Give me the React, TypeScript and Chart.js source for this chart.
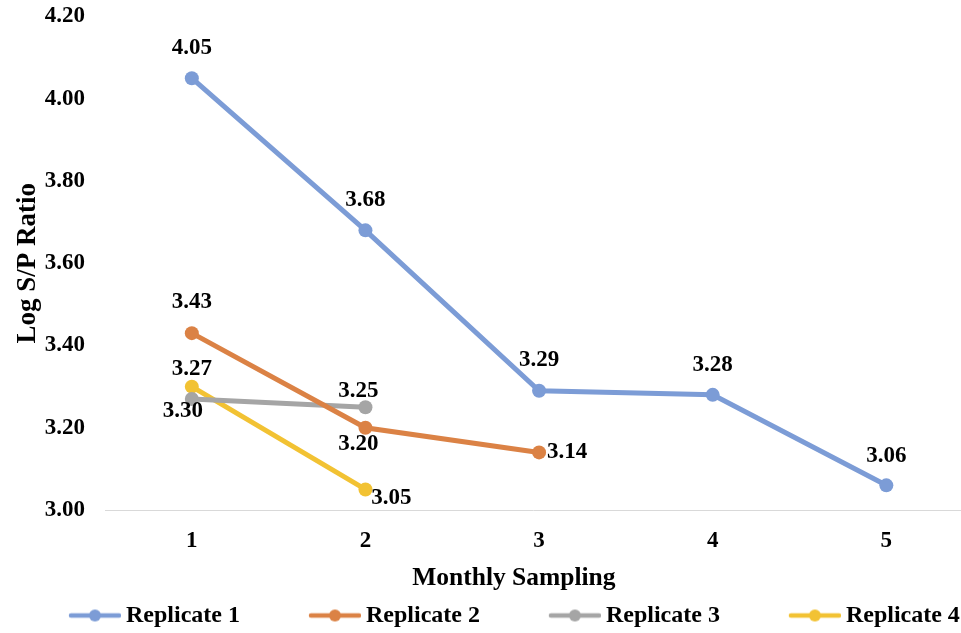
import React, { useEffect, useRef } from "react";
import { Chart, registerables } from "chart.js";

Chart.register(...registerables);

// ---- data ----
const MONTHS = [1, 2, 3, 4, 5];
const SERIES_NAMES = ["Replicate 1", "Replicate 2", "Replicate 3", "Replicate 4"];
const REPLICATE_1 = [4.05, 3.68, 3.29, 3.28, 3.06];
const REPLICATE_2 = [3.43, 3.2, 3.14];
const REPLICATE_3 = [3.27, 3.25];
const REPLICATE_4 = [3.3, 3.05];
const Y_TICKS = [3.0, 3.2, 3.4, 3.6, 3.8, 4.0, 4.2];
const X_TITLE = "Monthly Sampling";
const Y_TITLE = "Log S/P Ratio";

// ---- style ----
const COLORS = ["#7C9CD6", "#DB8245", "#A5A5A5", "#F2C233"];
const FONT = "'Liberation Serif', 'Times New Roman', serif";
// label placement relative to each point (dx, dy in px)
const LABEL_OFFSETS = [
  [[0, -30], [0, -30], [0, -31], [0, -30], [0, -29]],
  [[0, -31], [-7, 16], [28, 0]],
  [[0, -30], [-7, -16]],
  [[-9, 24], [26, 9]],
];

const LEGEND_W = 114;
const MARKER_W = 52;
const OVERHANG = 7;

function makeMarker(color: string): HTMLCanvasElement {
  const c = document.createElement("canvas");
  c.width = LEGEND_W + OVERHANG * 2;
  c.height = 16;
  const ctx = c.getContext("2d")!;
  const x1 = c.width - MARKER_W;
  const x2 = c.width;
  ctx.strokeStyle = color;
  ctx.lineWidth = 4.5;
  ctx.lineCap = "round";
  ctx.beginPath();
  ctx.moveTo(x1 + 2, 8);
  ctx.lineTo(x2 - 2, 8);
  ctx.stroke();
  ctx.fillStyle = color;
  ctx.beginPath();
  ctx.arc((x1 + x2) / 2, 8, 6, 0, Math.PI * 2);
  ctx.fill();
  return c;
}

const dataLabelPlugin = {
  id: "dataLabels",
  afterDatasetsDraw(chart: any) {
    const ctx = chart.ctx;
    ctx.save();
    ctx.font = `bold 23px ${FONT}`;
    ctx.fillStyle = "#000";
    ctx.textAlign = "center";
    ctx.textBaseline = "middle";
    chart.data.datasets.forEach((ds: any, di: number) => {
      const meta = chart.getDatasetMeta(di);
      meta.data.forEach((pt: any, i: number) => {
        const v = ds.data[i].y as number;
        const off = (LABEL_OFFSETS[di] && LABEL_OFFSETS[di][i]) || [0, -30];
        ctx.fillText(v.toFixed(2), pt.x + off[0], pt.y + off[1]);
      });
    });
    ctx.restore();
  },
};

export default function App() {
  const ref = useRef<HTMLCanvasElement | null>(null);

  useEffect(() => {
    if (!ref.current) return;
    const series = [REPLICATE_1, REPLICATE_2, REPLICATE_3, REPLICATE_4];
    const markers = COLORS.map(makeMarker);
    const chart = new Chart(ref.current, {
      type: "line",
      data: {
        datasets: series.map((vals, si) => ({
          label: SERIES_NAMES[si],
          data: vals.map((v, i) => ({ x: MONTHS[i], y: v })),
          borderColor: COLORS[si],
          backgroundColor: COLORS[si],
          borderWidth: 5,
          pointRadius: 7,
          pointHoverRadius: 7,
          pointBorderWidth: 0,
          pointBackgroundColor: COLORS[si],
          tension: 0,
          fill: false,
          clip: false,
        })),
      },
      options: {
        animation: false,
        responsive: false,
        devicePixelRatio: 1,
        layout: { autoPadding: false, padding: { top: 16.5, left: 0, right: 0, bottom: -4.5 } },
        scales: {
          x: {
            type: "linear",
            min: 0.5,
            max: 5.43,
            afterBuildTicks: (scale: any) => {
              scale.ticks = MONTHS.map((v) => ({ value: v }));
            },
            afterFit: (scale: any) => {
              scale.height = 93.5;
            },
            grid: { display: false, drawTicks: true, tickLength: 17 },
            border: { display: true, color: "#D9D9D9", width: 1 },
            ticks: {
              color: "#000",
              padding: 0,
              font: { family: FONT, size: 23, weight: "bold" },
              callback: (v: any) => String(v),
            },
            title: {
              display: true,
              text: X_TITLE + "\u00A0\u00A0\u00A0\u00A0\u00A0\u00A0",
              color: "#000",
              font: { family: FONT, size: 25.5, weight: "bold" },
              padding: { top: 0, bottom: 10 },
            },
          },
          y: {
            type: "linear",
            min: Y_TICKS[0],
            max: Y_TICKS[Y_TICKS.length - 1],
            afterBuildTicks: (scale: any) => {
              scale.ticks = Y_TICKS.map((v) => ({ value: v }));
            },
            afterFit: (scale: any) => {
              scale.width = 105;
            },
            grid: { display: false, drawTicks: true, tickLength: 20 },
            border: { display: false },
            ticks: {
              color: "#000",
              padding: 0,
              font: { family: FONT, size: 23, weight: "bold" },
              callback: (v: any) => Number(v).toFixed(2),
            },
            title: {
              display: true,
              text: Y_TITLE,
              color: "#000",
              font: { family: FONT, size: 27, weight: "bold" },
              padding: { top: 11.5, bottom: 0 },
            },
          },
        },
        plugins: {
          tooltip: { enabled: false },
          legend: {
            position: "bottom",
            align: "start",
            labels: {
              usePointStyle: true,
              pointStyleWidth: LEGEND_W,
              padding: 0,
              color: "#000",
              font: { family: FONT, size: 24, weight: "bold" },
              generateLabels: (ch: any) =>
                ch.data.datasets.map((ds: any, i: number) => ({
                  text: ds.label,
                  fillStyle: COLORS[i],
                  strokeStyle: COLORS[i],
                  lineWidth: 0,
                  pointStyle: markers[i],
                  hidden: false,
                  datasetIndex: i,
                  fontColor: "#000",
                })),
            },
          },
        },
      },
      plugins: [dataLabelPlugin],
    } as any);
    return () => chart.destroy();
  }, []);

  return (
    <div style={{ position: "absolute", left: 0, top: 0, width: 961, height: 633, background: "#fff" }}>
      <canvas ref={ref} width={961} height={633} style={{ width: 961, height: 633, display: "block" }} />
    </div>
  );
}
